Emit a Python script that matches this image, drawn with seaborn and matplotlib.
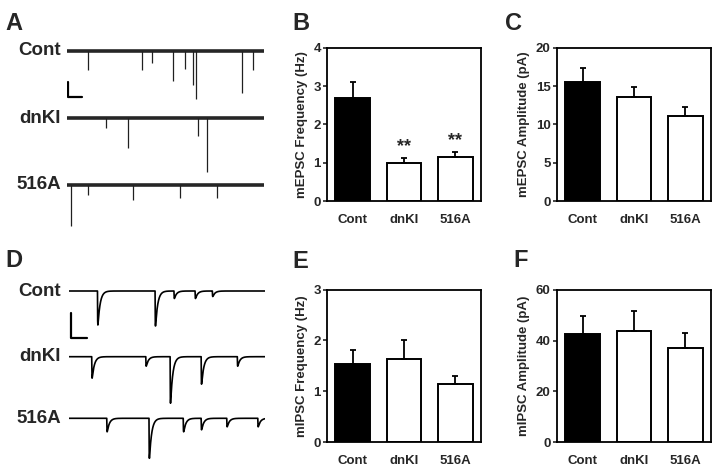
"""
    Miniature EPSC / IPSC figure.

    Left column: example traces (A: mEPSC, D: mIPSC)
    Right: bar charts of frequency and amplitude (mean + SEM)
"""
import numpy as np
import pandas as pd
import seaborn as sns
import matplotlib
matplotlib.use('Agg')
import matplotlib.pyplot as plt

groups = ['Cont', 'dnKI', '516A']
bar_colors = ['black', 'white', 'white']

#---- bar chart values (mean, SEM) ----#
mepsc_freq = [2.70, 0.99, 1.15]
mepsc_freq_sem = [0.40, 0.14, 0.14]
mepsc_amp = [15.5, 13.65, 11.05]
mepsc_amp_sem = [1.95, 1.2, 1.3]
mipsc_freq = [1.54, 1.63, 1.15]
mipsc_freq_sem = [0.27, 0.38, 0.15]
mipsc_amp = [42.8, 43.7, 37.0]
mipsc_amp_sem = [7.1, 8.0, 5.9]
mepsc_freq_stars = ['', '**', '**']

#---- example traces: event times (s) and amplitudes (pA) ----#
mepsc_times = {
    'Cont': [0.76, 2.69, 3.05, 3.80, 4.21, 4.51, 4.60, 6.26, 6.65],
    'dnKI': [1.39, 2.17, 4.69, 5.02],
    '516A': [0.13, 0.76, 2.35, 4.04, 5.35],
}
mepsc_amps = {
    'Cont': [26, 26, 17, 40, 25, 46, 64, 57, 26],
    'dnKI': [13, 40, 24, 72],
    '516A': [55, 13, 20, 18, 18],
}
mipsc_times = {
    'Cont': [0.89, 2.69, 3.28, 3.94, 4.48],
    'dnKI': [0.71, 2.40, 3.16, 4.13, 5.26],
    '516A': [1.18, 2.50, 3.57, 4.13, 4.93, 5.90],
}
mipsc_amps = {
    'Cont': [68, 70, 15, 15, 11],
    'dnKI': [43, 19, 93, 55, 19],
    '516A': [27, 80, 27, 23, 17, 17],
}

W, H = 720, 469

sns.set_theme(style='ticks')
plt.rcParams['font.family'] = ['Liberation Sans', 'DejaVu Sans']
plt.rcParams['font.weight'] = 'bold'
plt.rcParams['axes.labelweight'] = 'bold'

fig = plt.figure(figsize=(W / 100, H / 100), dpi=100)


def px_axes(left, top, right, bottom):
    """Axes placed with pixel edges (origin top-left)."""
    return fig.add_axes([left / W, 1 - bottom / H, (right - left) / W, (bottom - top) / H])


def bar_panel(ax, vals, sems, ylabel, yticks, stars=None):
    df = pd.DataFrame({'group': groups, 'value': vals})
    sns.barplot(data=df, x='group', y='value', hue='group', palette=bar_colors,
                legend=False, edgecolor='black', linewidth=1.4, width=0.68,
                saturation=1, errorbar=None, ax=ax)
    ax.errorbar(range(len(vals)), vals, yerr=[np.zeros(len(vals)), sems],
                fmt='none', ecolor='black', elinewidth=1.3, capsize=2.2, capthick=1.3)
    if stars is not None:
        for i, s in enumerate(stars):
            if s:
                ax.text(i, vals[i] + sems[i] + 0.29 * (yticks[-1] / 4), s,
                        ha='center', va='center', fontsize=13, fontweight='bold')
    ax.set_xlim(-0.5, 2.5)
    ax.set_ylim(0, yticks[-1])
    ax.set_yticks(yticks)
    ax.set_xlabel('')
    ax.set_ylabel(ylabel, fontsize=9.5, fontweight='bold', labelpad=4)
    ax.tick_params(axis='x', length=0, pad=9, labelsize=9.5)
    ax.tick_params(axis='y', length=3, width=1.2, pad=1.5, labelsize=9.5)
    for lab in ax.get_xticklabels() + ax.get_yticklabels():
        lab.set_fontweight('bold')
    for sp in ax.spines.values():
        sp.set_visible(True)
        sp.set_linewidth(1.3)
        sp.set_color('black')


#---- A: mEPSC traces ----#
axA = px_axes(67, 35, 264, 235)
a_len = 7.04
a_offsets = [0, -90, -179]
for g, off in zip(groups, a_offsets):
    axA.plot([0, a_len], [off, off], color='#262626', lw=2.6, solid_capstyle='butt')
    axA.vlines(mepsc_times[g], off, off - np.array(mepsc_amps[g]), color='#202020', lw=0.9)
    axA.text(-0.21, off, g, ha='right', va='center', fontsize=13.5, fontweight='bold')
# scale bar 20 pA / 0.5 s
axA.plot([0.036, 0.036, 0.536], [-41.7, -61.7, -61.7], color='black', lw=1.6)
axA.set_xlim(0, a_len)
axA.set_ylim(-245.8, 20.9)
axA.axis('off')

#---- D: mIPSC traces ----#
axD = px_axes(69, 269, 265, 469)
d_len = 6.125
d_offsets = [0, -131.4, -254.6]
t = np.linspace(0, d_len, 4000)
tau_r, tau_d = 0.004, 0.07
t_peak = tau_r * tau_d / (tau_d - tau_r) * np.log(tau_d / tau_r)
norm = np.exp(-t_peak / tau_d) - np.exp(-t_peak / tau_r)
for g, off in zip(groups, d_offsets):
    y = np.full_like(t, off)
    for t0, amp in zip(mipsc_times[g], mipsc_amps[g]):
        dt = np.clip(t - t0, 0, None)
        y -= amp * (np.exp(-dt / tau_d) - np.exp(-dt / tau_r)) / norm
    axD.plot(t, y, color='black', lw=1.2)
    axD.text(-0.25, off, g, ha='right', va='center', fontsize=13.5, fontweight='bold')
# scale bar 50 pA / 0.5 s
axD.plot([0.0625, 0.0625, 0.5625], [-44, -94, -94], color='black', lw=1.6)
axD.set_xlim(0, d_len)
axD.set_ylim(-356, 44)
axD.axis('off')

#---- bar panels ----#
axB = px_axes(327, 48, 481, 201)
bar_panel(axB, mepsc_freq, mepsc_freq_sem, 'mEPSC Frequency (Hz)', [0, 1, 2, 3, 4],
          stars=mepsc_freq_stars)
axC = px_axes(557, 48, 711, 201)
bar_panel(axC, mepsc_amp, mepsc_amp_sem, 'mEPSC Amplitude (pA)', [0, 5, 10, 15, 20])
axE = px_axes(327, 289.5, 481, 442)
bar_panel(axE, mipsc_freq, mipsc_freq_sem, 'mIPSC Frequency (Hz)', [0, 1, 2, 3])
axF = px_axes(557, 290, 711, 442)
bar_panel(axF, mipsc_amp, mipsc_amp_sem, 'mIPSC Amplitude (pA)', [0, 20, 40, 60])

#---- panel letters ----#
letters = ['A', 'B', 'C', 'D', 'E', 'F']
letter_pos = [(5, 30), (292, 30), (505, 30), (5, 267), (292, 268), (513, 267)]
for s, (x, y) in zip(letters, letter_pos):
    fig.text(x / W, 1 - y / H, s, ha='left', va='baseline', fontsize=17, fontweight='bold')

fig.savefig('out.png', dpi=100)
plt.close()
